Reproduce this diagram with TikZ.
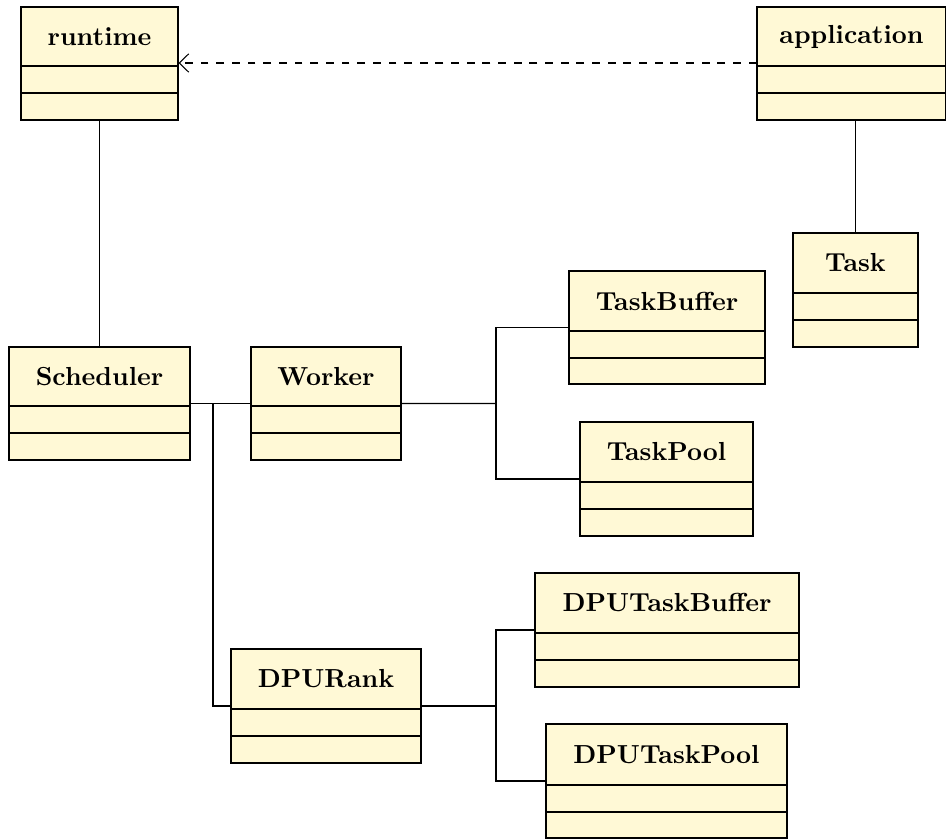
\documentclass[tikz,border=0pt]{standalone}
\usetikzlibrary{fit,arrows.meta}
\definecolor{classfill}{RGB}{255,249,214}
\tikzset{
  classbox/.style={draw=black, fill=classfill, inner sep=0pt, line width=0.4pt},
  classtitle/.style={font=\bfseries, inner sep=0pt},
  conn/.style={draw=black, line width=0.4pt},
  dep/.style={draw=black, line width=0.4pt, dashed, -{Straight Barb[length=3.6pt,width=7pt]}}
}
% name, x1, y1, x2, y2, line1, line2, title
\newcommand\umlclassbox[8]{%
  \node[classbox, fit={(#2,#3) (#4,#5)}] (#1) {};
  \draw[conn] (#2,#6) -- (#4,#6);
  \draw[conn] (#2,#7) -- (#4,#7);
  \node[classtitle] (#1-title) at ({(#2+#4)/2},{(#3+#6)/2}) {#8};
}
\begin{document}
\begin{tikzpicture}[x=0.3832pt, y=-0.3832pt]
\useasboundingbox (0,0) rectangle (946,839);
\umlclassbox{runtime}{21}{7}{178}{120}{66}{93}{runtime}
\umlclassbox{application}{757}{7}{946}{120}{66}{93}{application}
\umlclassbox{task}{793}{233}{918}{347}{293}{320}{Task}
\umlclassbox{taskbuffer}{569}{271}{765}{384}{331}{358}{TaskBuffer}
\umlclassbox{scheduler}{9}{347}{190}{460}{406}{433}{Scheduler}
\umlclassbox{worker}{251}{347}{401}{460}{406}{433}{Worker}
\umlclassbox{taskpool}{580}{422}{753}{536}{482}{509}{TaskPool}
\umlclassbox{dputaskbuffer}{535}{573}{799}{687}{633}{660}{DPUTaskBuffer}
\umlclassbox{dpurank}{231}{649}{421}{763}{709}{736}{DPURank}
\umlclassbox{dputaskpool}{546}{724}{787}{838}{785}{812}{DPUTaskPool}

% connectors
\draw[dep] (application.west |- 0,63) -- (runtime.east |- 0,63);
\draw[conn] (runtime.south) -- (scheduler.north);
\draw[conn] (application.south -| task.north) -- (task.north);
\draw[conn] (scheduler.east) -- (worker.west);
\coordinate (sbranch) at (213,403.5);
\draw[conn] (sbranch) |- (dpurank.west);
\coordinate (wbranch) at (496,403.5);
\draw[conn] (worker.east) -- (wbranch);
\draw[conn] (wbranch) |- (taskbuffer.west);
\draw[conn] (wbranch) |- (taskpool.west);
\coordinate (dbranch) at (496,706);
\draw[conn] (dpurank.east) -- (dbranch);
\draw[conn] (dbranch) |- (dputaskbuffer.west);
\draw[conn] (dbranch) |- (dputaskpool.west);
\end{tikzpicture}
\end{document}
